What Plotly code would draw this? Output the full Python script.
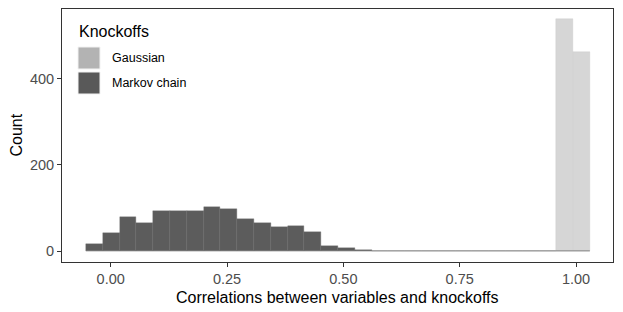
import plotly.graph_objects as go

# ---- data ----
bin_start = -0.0531
bin_width = 0.0361
markov_counts = [17, 41, 79, 66, 93, 92, 92, 101, 98, 74, 66, 55, 59, 43, 11, 8, 3] + [0] * 13
gaussian_counts = [0] * 28 + [538, 462]
x_ticks = [0.0, 0.25, 0.5, 0.75, 1.0]
x_tick_labels = ["0.00", "0.25", "0.50", "0.75", "1.00"]
y_ticks = [0, 200, 400]
y_tick_labels = ["0", "200", "400"]
series_names = ["Gaussian", "Markov chain"]
legend_title = "Knockoffs"
x_title = "Correlations between variables and knockoffs"
y_title = "Count"

n_bins = len(markov_counts)
centers = [bin_start + (i + 0.5) * bin_width for i in range(n_bins)]
bin_end = bin_start + n_bins * bin_width

# ---- layout geometry (page pixels; page body has an 8px margin) ----
PAGE_W, PAGE_H = 623, 312
OFF = 8
W, H = PAGE_W - OFF, PAGE_H - OFF
P_LEFT, P_RIGHT, P_TOP, P_BOTTOM = 62, 613, 9, 262
ML, MT = P_LEFT - OFF, P_TOP - OFF
MR, MB = W - (P_RIGHT - OFF), H - (P_BOTTOM - OFF)
PW, PH = P_RIGHT - P_LEFT, P_BOTTOM - P_TOP
FONT = "Liberation Sans, Arial, sans-serif"

def px_x(p):
    return (p - P_LEFT) / PW

def px_y(p):
    return (P_BOTTOM - p) / PH

fill_gauss = "#D6D6D6"
fill_markov = "#5C5C5C"
key_gauss = "#B3B3B3"
key_markov = "#595959"

fig = go.Figure()
fig.add_trace(go.Bar(x=centers, y=gaussian_counts, width=bin_width, name=series_names[0],
                     marker=dict(color=fill_gauss, line=dict(width=0.4, color="#CACACA")),
                     showlegend=False))
fig.add_trace(go.Bar(x=centers, y=markov_counts, width=bin_width, name=series_names[1],
                     marker=dict(color=fill_markov, line=dict(width=0.4, color="#6A6A6A")),
                     showlegend=False))

shapes = [
    dict(type="line", xref="x", yref="y", x0=bin_start, x1=bin_end, y0=0, y1=0,
         line=dict(color="#E2E2E2", width=1), layer="below"),
    dict(type="rect", xref="paper", yref="paper", x0=px_x(78), x1=px_x(100),
         y0=px_y(69), y1=px_y(47), fillcolor=key_gauss, line=dict(color="#F2F2F2", width=1)),
    dict(type="rect", xref="paper", yref="paper", x0=px_x(78), x1=px_x(100),
         y0=px_y(94), y1=px_y(72), fillcolor=key_markov, line=dict(color="#F2F2F2", width=1)),
]

annotations = [
    dict(text=legend_title, xref="paper", yref="paper", x=px_x(77), y=px_y(31),
         xanchor="left", yanchor="middle", showarrow=False,
         font=dict(family=FONT, size=16, color="black")),
    dict(text=series_names[0], xref="paper", yref="paper", x=px_x(110), y=px_y(58),
         xanchor="left", yanchor="middle", showarrow=False,
         font=dict(family=FONT, size=12.5, color="black")),
    dict(text=series_names[1], xref="paper", yref="paper", x=px_x(110), y=px_y(83),
         xanchor="left", yanchor="middle", showarrow=False,
         font=dict(family=FONT, size=12.5, color="black")),
    dict(text=x_title, xref="paper", yref="paper", x=0.5, y=px_y(297),
         xanchor="center", yanchor="middle", showarrow=False,
         font=dict(family=FONT, size=16, color="black")),
    dict(text=y_title, xref="paper", yref="paper", x=px_x(16), y=0.5, textangle=-90,
         xanchor="center", yanchor="middle", showarrow=False,
         font=dict(family=FONT, size=16, color="black")),
]

axis_common = dict(showline=True, linecolor="#333333", linewidth=1, mirror=True,
                   ticks="outside", ticklen=4, tickcolor="#333333", tickwidth=1,
                   showgrid=False, zeroline=False, automargin=False,
                   tickfont=dict(family=FONT, size=14.5, color="#4D4D4D"))

fig.update_layout(
    width=W, height=H,
    margin=dict(l=ML, r=MR, t=MT, b=MB, pad=0),
    paper_bgcolor="white", plot_bgcolor="white",
    barmode="overlay", bargap=0,
    shapes=shapes, annotations=annotations,
    xaxis=dict(range=[-0.1047, 1.0795], tickvals=x_ticks, ticktext=x_tick_labels, **axis_common),
    yaxis=dict(range=[-25.5, 561.5], tickvals=y_ticks, ticktext=y_tick_labels, **axis_common),
    showlegend=False,
)

fig.write_html("out.html")
